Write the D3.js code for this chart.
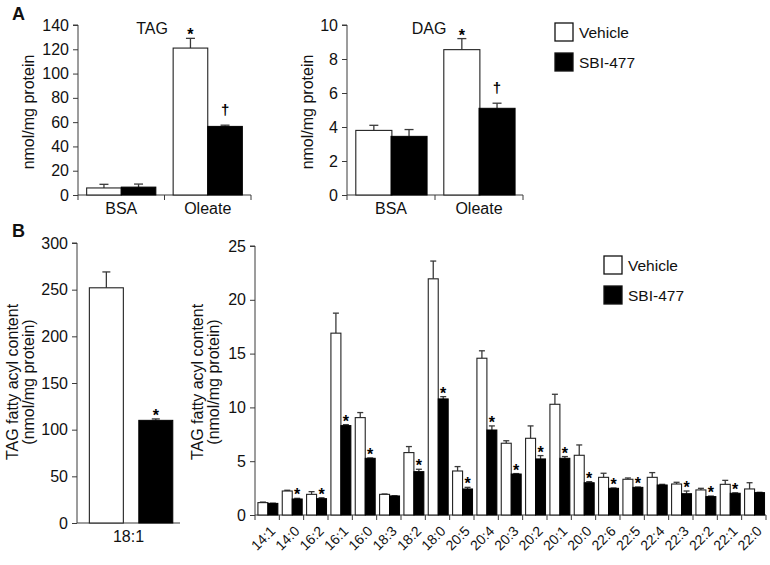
<!DOCTYPE html>
<html><head><meta charset="utf-8">
<script src="https://cdn.jsdelivr.net/npm/d3@7"></script>
<style>
body{margin:0;background:#fff;}
svg text{font-family:"Liberation Sans",Arial,sans-serif;fill:#111;}
</style></head>
<body><svg id="c" width="770" height="565"></svg>
<script>
// ---------- DATA ----------
const seriesNames = ["Vehicle", "SBI-477"];

const tagCats = ["BSA", "Oleate"];
const tagVeh = [5.8, 121];
const tagVehErr = [3.0, 8.0];
const tagSbi = [6.5, 56.5];
const tagSbiErr = [2.5, 1.0];
const tagTicks = [0, 20, 40, 60, 80, 100, 120, 140];
const tagMarks = ["", "*"];        // above Vehicle
const tagSbiMarks = ["", "†"];     // above SBI-477

const dagCats = ["BSA", "Oleate"];
const dagVeh = [3.8, 8.55];
const dagVehErr = [0.3, 0.65];
const dagSbi = [3.45, 5.1];
const dagSbiErr = [0.4, 0.3];
const dagTicks = [0, 2, 4, 6, 8, 10];
const dagMarks = ["", "*"];
const dagSbiMarks = ["", "†"];

const b1Cats = ["18:1"];
const b1Veh = [252];
const b1VehErr = [17];
const b1Sbi = [110];
const b1SbiErr = [1.5];
const b1Ticks = [0, 50, 100, 150, 200, 250, 300];
const b1Sig = [1];

const b2Cats = ["14:1","14:0","16:2","16:1","16:0","18:3","18:2","18:0","20:5","20:4","20:3","20:2","20:1","20:0","22:6","22:5","22:4","22:3","22:2","22:1","22:0"];
const b2Veh =    [1.15, 2.23, 1.92, 16.9, 9.05, 1.92, 5.8, 21.95, 4.09, 14.57, 6.67, 7.13, 10.29, 5.55, 3.5, 3.32, 3.5, 2.88, 2.33, 2.85, 2.42];
const b2VehErr = [0.05, 0.07, 0.25, 1.86, 0.47, 0.03, 0.56, 1.65, 0.41, 0.69, 0.23, 1.15, 0.93, 0.96, 0.38, 0.12, 0.44, 0.16, 0.15, 0.37, 0.58];
const b2Sbi =    [1.08, 1.49, 1.52, 8.31, 5.27, 1.77, 4.03, 10.79, 2.42, 7.9, 3.81, 5.21, 5.27, 3.0, 2.48, 2.57, 2.79, 1.98, 1.71, 2.02, 2.08];
const b2SbiErr = [0.02, 0.06, 0.08, 0.09, 0.03, 0.02, 0.22, 0.21, 0.15, 0.38, 0.04, 0.31, 0.16, 0.1, 0.03, 0.03, 0.06, 0.25, 0.05, 0.04, 0.03];
const b2Sig =    [0, 1, 1, 1, 1, 0, 1, 1, 1, 1, 1, 1, 1, 1, 1, 1, 0, 1, 1, 1, 0];
const b2Ticks = [0, 5, 10, 15, 20, 25];

// ---------- DRAW ----------
const svg = d3.select("#c");
const AX = "#3a3a3a";
const FS = 16;

function panel(o) {
  const g = svg.append("g");
  const y = d3.scaleLinear().domain(o.domain).range([o.y0, o.y1]);
  const x = d3.scaleBand().domain(o.cats).range([o.x0, o.x1]);
  const bw = x.bandwidth();
  const ya = g.append("g").attr("transform", `translate(${o.x0},0)`)
    .call(d3.axisLeft(y).tickValues(o.ticks).tickSize(5).tickPadding(4).tickFormat(d3.format("d")));
  ya.select(".domain").attr("stroke", AX).attr("d", `M-5,${o.y1}H0V${o.y0}`);
  ya.selectAll(".tick line").attr("stroke", AX);
  ya.selectAll(".tick text").attr("font-size", FS).attr("fill", "#111");
  g.append("line").attr("x1", o.x0).attr("x2", o.x1).attr("y1", o.y0).attr("y2", o.y0).attr("stroke", AX);
  if (o.bandTicks) {
    const bounds = o.cats.map(c => x(c)).concat([o.x1]);
    g.selectAll("line.bt").data(bounds).join("line")
      .attr("x1", d => d).attr("x2", d => d).attr("y1", o.y0).attr("y2", o.y0 + 5).attr("stroke", AX);
  }
  const vx = c => x(c) + o.off * bw;
  const sx = c => x(c) + o.soff * bw;
  const w = o.w * bw;
  const data = o.cats.map((c, i) => ({c, i, v: o.veh[i], ve: o.vehErr[i], s: o.sbi[i], se: o.sbiErr[i]}));
  function errbar(xc, v, e, cap) {
    g.append("line").attr("x1", xc).attr("x2", xc).attr("y1", y(v)).attr("y2", y(v + e)).attr("stroke", AX).attr("stroke-width", 1.3);
    g.append("line").attr("x1", xc - cap / 2).attr("x2", xc + cap / 2).attr("y1", y(v + e)).attr("y2", y(v + e)).attr("stroke", AX).attr("stroke-width", 1.3);
  }
  data.forEach(d => {
    errbar(vx(d.c) + w / 2, d.v, d.ve, o.cap);
    errbar(sx(d.c) + w / 2, d.s, d.se, o.cap);
  });
  g.selectAll("rect.v").data(data).join("rect")
    .attr("x", d => vx(d.c)).attr("y", d => y(d.v)).attr("width", w).attr("height", d => y(0) - y(d.v))
    .attr("fill", "#fff").attr("stroke", "#222").attr("stroke-width", 1.1);
  g.selectAll("rect.s").data(data).join("rect")
    .attr("x", d => sx(d.c)).attr("y", d => y(d.s)).attr("width", w).attr("height", d => y(0) - y(d.s))
    .attr("fill", "#000").attr("stroke", "#000").attr("stroke-width", 1);
  function mark(m, xc, top) {
    g.append("text").attr("x", xc).attr("y", top + (m === "*" ? 2 : -10))
      .attr("text-anchor", "middle").attr("font-size", m === "*" ? 16 : 15)
      .attr("font-weight", "bold").style("fill", "#000").text(m);
  }
  if (o.vehMarks) data.forEach(d => { const m = o.vehMarks[d.i]; if (m) mark(m, vx(d.c) + w / 2, y(d.v + d.ve)); });
  if (o.sbiMarks) data.forEach(d => { const m = o.sbiMarks[d.i]; if (m) mark(m, sx(d.c) + w / 2, y(d.s + d.se)); });
  if (o.rotate) {
    g.selectAll("text.cl").data(o.cats).join("text")
      .attr("transform", c => `translate(${x(c) + bw / 2 + 9},${o.y0 + 17}) rotate(-45)`)
      .attr("text-anchor", "end").attr("font-size", 14).text(c => c);
  } else {
    g.selectAll("text.cl").data(o.cats).join("text")
      .attr("x", c => x(c) + bw / 2).attr("y", o.y0 + 19)
      .attr("text-anchor", "middle").attr("font-size", FS).text(c => c);
  }
  return {g, x, y};
}

function ylabel(lines, cx, cy) {
  lines.forEach((t, i) => {
    svg.append("text").attr("transform", `translate(${cx[i]},${cy}) rotate(-90)`)
      .attr("text-anchor", "middle").attr("dominant-baseline", "central").attr("font-size", FS).text(t);
  });
}

function legend(x, y) {
  seriesNames.forEach((n, i) => {
    svg.append("rect").attr("x", x).attr("y", y + i * 30).attr("width", 18).attr("height", 18)
      .attr("fill", i ? "#000" : "#fff").attr("stroke", "#111").attr("stroke-width", 1.3);
    svg.append("text").attr("x", x + 24).attr("y", y + i * 30 + 9).attr("dominant-baseline", "central")
      .attr("font-size", 15.5).text(n);
  });
}

// Panel A - TAG
panel({cats: tagCats, veh: tagVeh, vehErr: tagVehErr, sbi: tagSbi, sbiErr: tagSbiErr,
  domain: [0, 140], ticks: tagTicks, x0: 78, x1: 251, y0: 195, y1: 25,
  off: 0.1, soff: 0.5, w: 0.4, cap: 9, bandTicks: true, vehMarks: tagMarks, sbiMarks: tagSbiMarks});
svg.append("text").attr("x", 152).attr("y", 34).attr("text-anchor", "middle").attr("font-size", FS).text("TAG");
ylabel(["nmol/mg protein"], [28], 112);

// Panel A - DAG
panel({cats: dagCats, veh: dagVeh, vehErr: dagVehErr, sbi: dagSbi, sbiErr: dagSbiErr,
  domain: [0, 10], ticks: dagTicks, x0: 347, x1: 523, y0: 195, y1: 25,
  off: 0.1, soff: 0.5, w: 0.41, cap: 9, bandTicks: true, vehMarks: dagMarks, sbiMarks: dagSbiMarks});
svg.append("text").attr("x", 429).attr("y", 34).attr("text-anchor", "middle").attr("font-size", FS).text("DAG");
ylabel(["nmol/mg protein"], [307], 112);

legend(555, 23);

// Panel B - left
panel({cats: b1Cats, veh: b1Veh, vehErr: b1VehErr, sbi: b1Sbi, sbiErr: b1SbiErr,
  domain: [0, 300], ticks: b1Ticks, x0: 77, x1: 180, y0: 523, y1: 243,
  off: 0.12, soff: 0.6, w: 0.33, cap: 8, bandTicks: false,
  sbiMarks: b1Sig.map(s => s ? "*" : "")});
ylabel(["TAG fatty acyl content", "(nmol/mg protein)"], [12, 28], 382);

// Panel B - right
panel({cats: b2Cats, veh: b2Veh, vehErr: b2VehErr, sbi: b2Sbi, sbiErr: b2SbiErr,
  domain: [0, 25], ticks: b2Ticks, x0: 255, x1: 766, y0: 515, y1: 246,
  off: 0.12, soff: 0.53, w: 0.41, cap: 6, bandTicks: true, rotate: true,
  sbiMarks: b2Sig.map(s => s ? "*" : "")});
ylabel(["TAG fatty acyl content", "(nmol/mg protein)"], [197, 213], 382);

legend(604, 256);

svg.append("text").attr("x", 12).attr("y", 20).attr("font-size", 18).attr("font-weight", "bold").text("A");
svg.append("text").attr("x", 12).attr("y", 237).attr("font-size", 18).attr("font-weight", "bold").text("B");
</script></body></html>
